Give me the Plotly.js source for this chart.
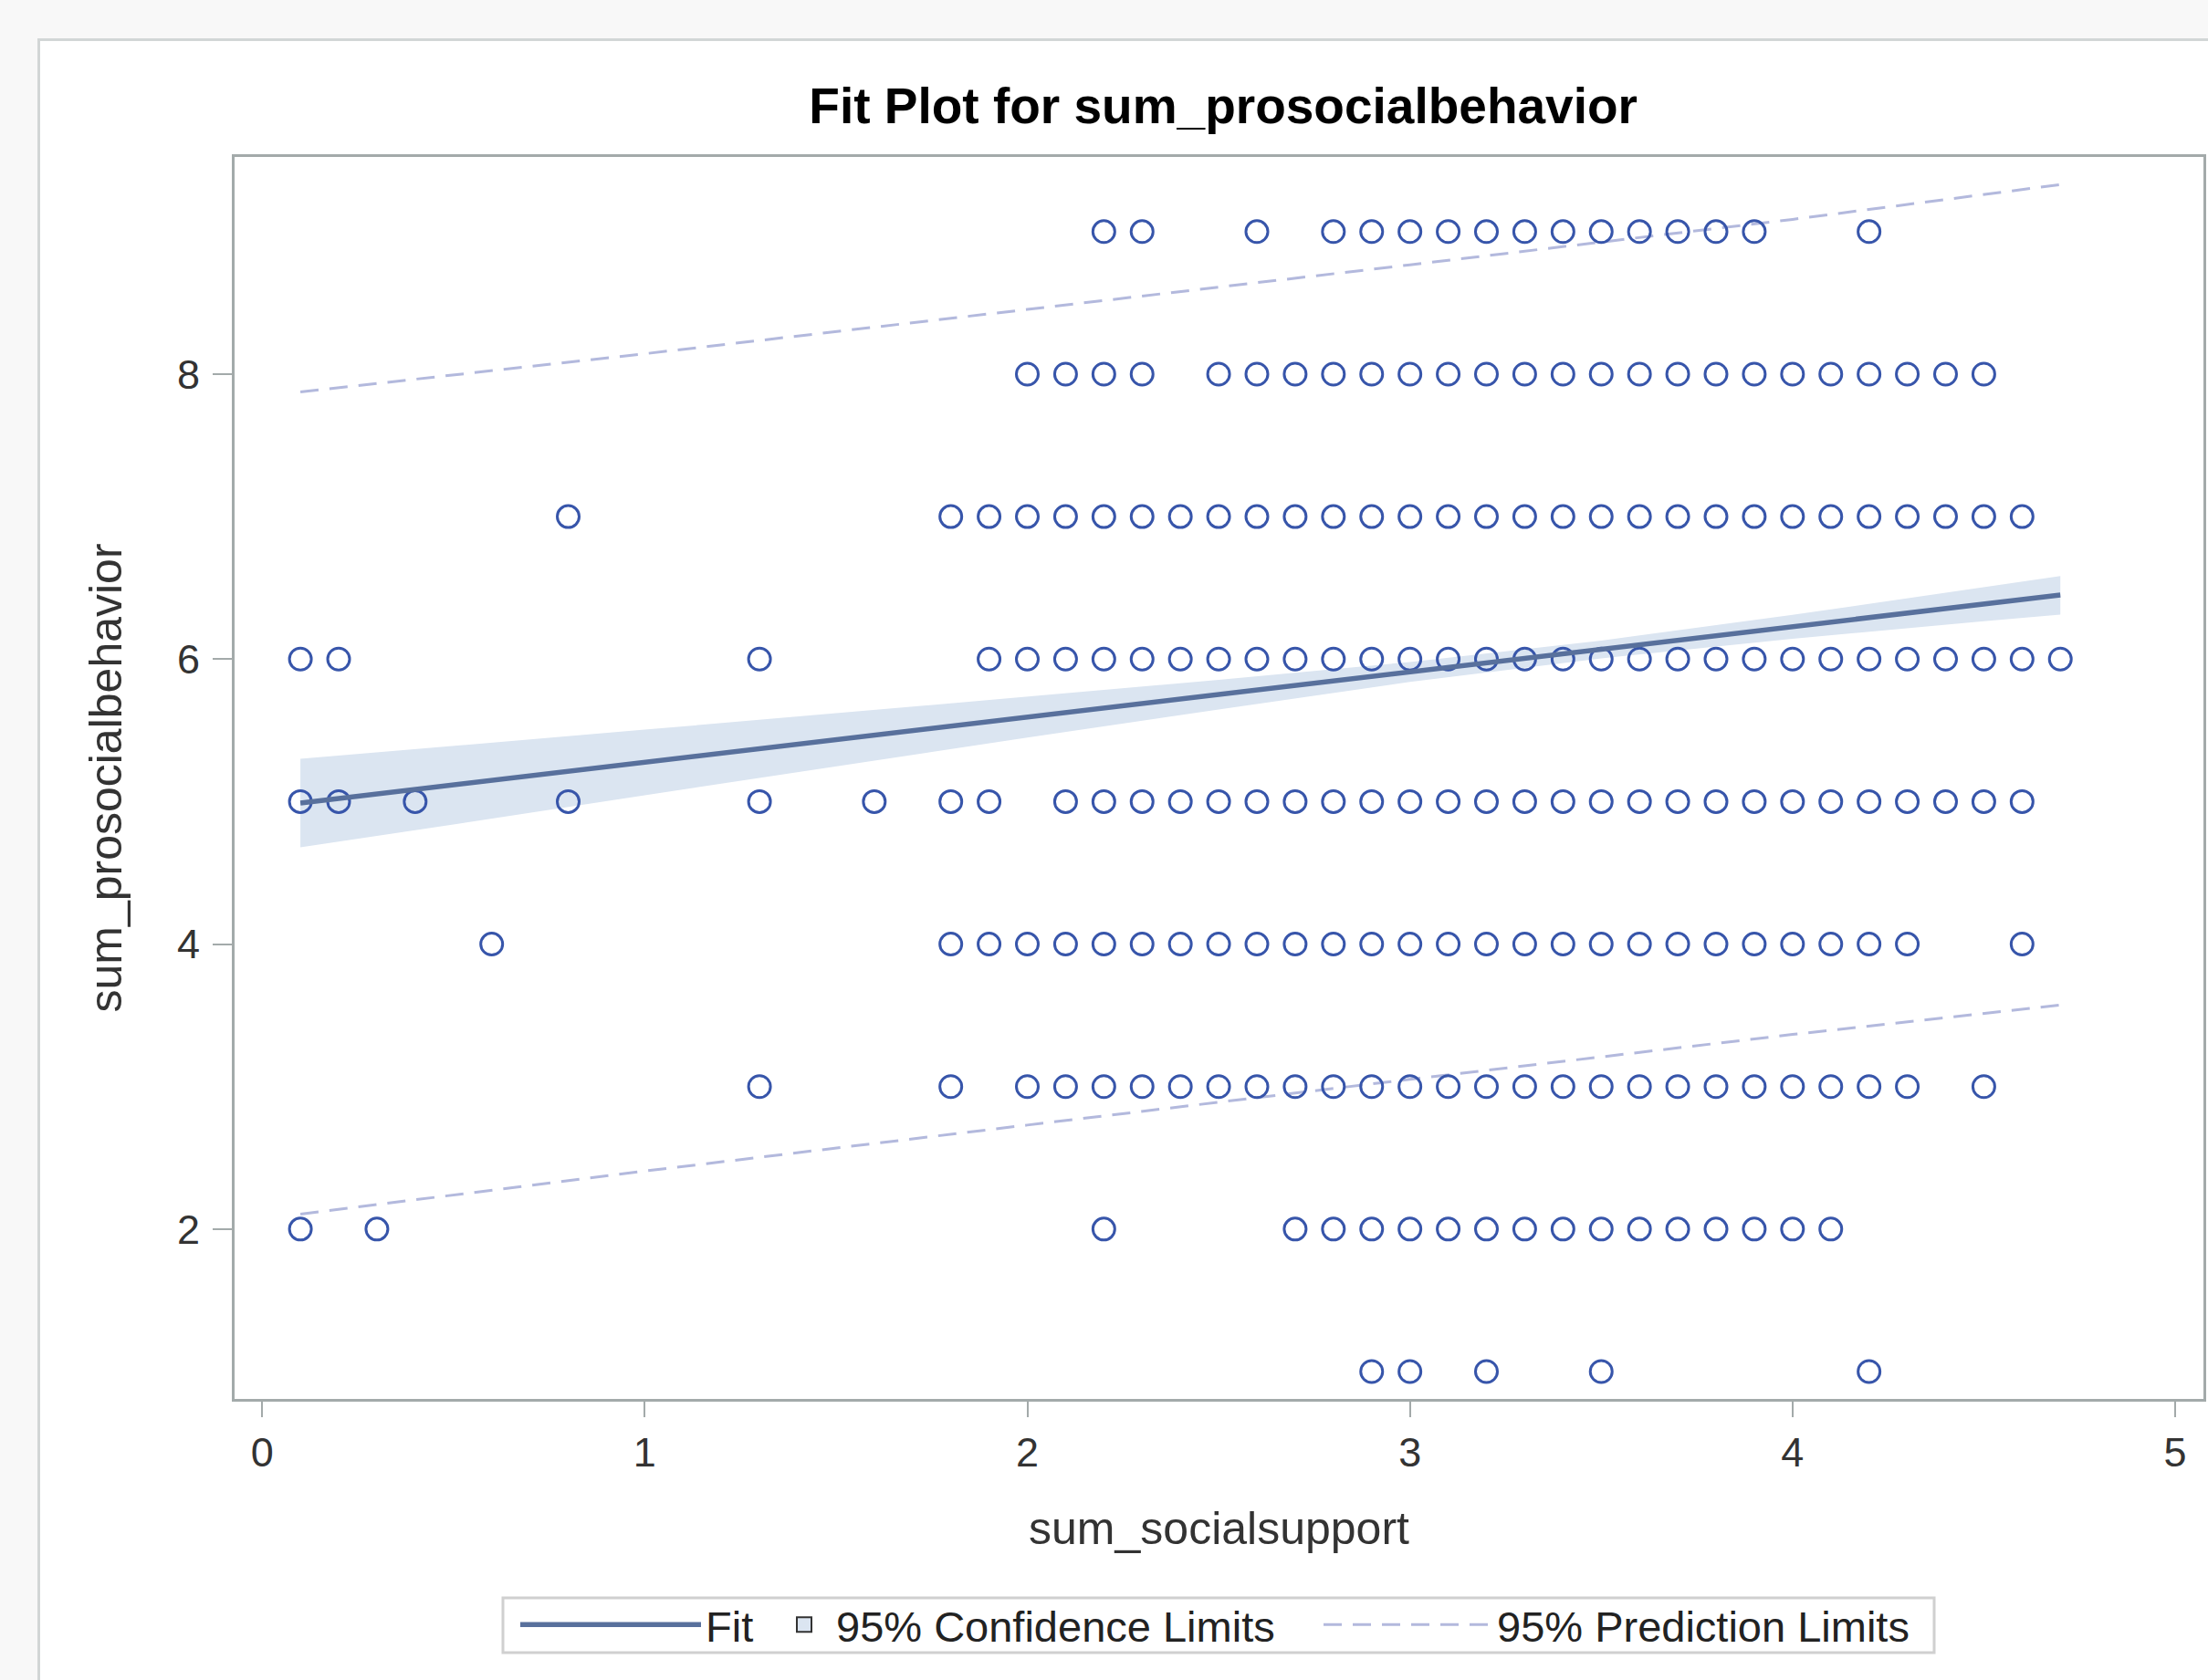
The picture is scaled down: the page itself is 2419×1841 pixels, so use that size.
<!DOCTYPE html>
<html><head><meta charset="utf-8">
<script src="https://cdn.plot.ly/plotly-3.0.1.min.js"></script>
<style>
html,body{margin:0;padding:0;width:2419px;height:1841px;overflow:hidden;background:#f8f8f8;}
#panel{position:absolute;left:41px;top:42px;width:2420px;height:1850px;background:#fff;border:3px solid #d2d6d6;box-sizing:border-box;}
#chart{position:absolute;left:0;top:0;width:2419px;height:1841px;}
</style></head><body>
<div id="panel"></div><div id="chart"></div>
<script>
// ---- data ----
const rowY9 = [2.2,2.3,2.6,2.8,2.9,3.0,3.1,3.2,3.3,3.4,3.5,3.6,3.7,3.8,3.9,4.2];
const rowY8 = [2.0,2.1,2.2,2.3,2.5,2.6,2.7,2.8,2.9,3.0,3.1,3.2,3.3,3.4,3.5,3.6,3.7,3.8,3.9,4.0,4.1,4.2,4.3,4.4,4.5];
const rowY7 = [0.8,1.8,1.9,2.0,2.1,2.2,2.3,2.4,2.5,2.6,2.7,2.8,2.9,3.0,3.1,3.2,3.3,3.4,3.5,3.6,3.7,3.8,3.9,4.0,4.1,4.2,4.3,4.4,4.5,4.6];
const rowY6 = [0.1,0.2,1.3,1.9,2.0,2.1,2.2,2.3,2.4,2.5,2.6,2.7,2.8,2.9,3.0,3.1,3.2,3.3,3.4,3.5,3.6,3.7,3.8,3.9,4.0,4.1,4.2,4.3,4.4,4.5,4.6,4.7];
const rowY5 = [0.1,0.2,0.4,0.8,1.3,1.6,1.8,1.9,2.1,2.2,2.3,2.4,2.5,2.6,2.7,2.8,2.9,3.0,3.1,3.2,3.3,3.4,3.5,3.6,3.7,3.8,3.9,4.0,4.1,4.2,4.3,4.4,4.5,4.6];
const rowY4 = [0.6,1.8,1.9,2.0,2.1,2.2,2.3,2.4,2.5,2.6,2.7,2.8,2.9,3.0,3.1,3.2,3.3,3.4,3.5,3.6,3.7,3.8,3.9,4.0,4.1,4.2,4.3,4.6];
const rowY3 = [1.3,1.8,2.0,2.1,2.2,2.3,2.4,2.5,2.6,2.7,2.8,2.9,3.0,3.1,3.2,3.3,3.4,3.5,3.6,3.7,3.8,3.9,4.0,4.1,4.2,4.3,4.5];
const rowY2 = [0.1,0.3,2.2,2.7,2.8,2.9,3.0,3.1,3.2,3.3,3.4,3.5,3.6,3.7,3.8,3.9,4.0,4.1];
const rowY1 = [2.9,3.0,3.2,3.5,4.2];
const rowLevels = [9,8,7,6,5,4,3,2,1];

const fitX = [0.1, 4.7];
const fitY = [4.99, 6.45];

const bandX     = [0.1, 0.5, 1.0, 1.5, 2.0, 2.5, 3.0, 3.5, 4.0, 4.5, 4.7];
const bandUpper = [5.30, 5.39, 5.505, 5.62, 5.735, 5.854, 5.98, 6.13, 6.31, 6.504, 6.583];
const bandLower = [4.68, 4.84, 5.045, 5.248, 5.449, 5.646, 5.84, 6.005, 6.143, 6.266, 6.313];

const predX     = [0.1, 1.0, 2.0, 3.0, 4.0, 4.7];
const predUpper = [7.875, 8.143, 8.454, 8.767, 9.086, 9.33];
const predLower = [2.105, 2.407, 2.73, 3.051, 3.366, 3.572];

const xTicks = [0, 1, 2, 3, 4, 5];
const yTicks = [2, 4, 6, 8];

const titleText = 'Fit Plot for sum_prosocialbehavior';
const xTitle = 'sum_socialsupport';
const yTitle = 'sum_prosocialbehavior';
const seriesNames = ['Fit', '95% Confidence Limits', '95% Prediction Limits'];

// ---- build point arrays ----
const rows = [rowY9,rowY8,rowY7,rowY6,rowY5,rowY4,rowY3,rowY2,rowY1];
const ptX = [], ptY = [];
rows.forEach((r, i) => r.forEach(v => { ptX.push(v); ptY.push(rowLevels[i]); }));

const FONT = 'Liberation Sans, Arial, Helvetica, sans-serif';
const AXC = '#a3aaaa';

const traces = [
  {x: bandX, y: bandLower, mode:'lines', line:{width:0, color:'rgba(0,0,0,0)'}, showlegend:false, hoverinfo:'skip'},
  {x: bandX, y: bandUpper, mode:'lines', line:{width:0, color:'rgba(0,0,0,0)'}, fill:'tonexty', fillcolor:'#dbe5f1', showlegend:false, hoverinfo:'skip'},
  {x: predX, y: predUpper, mode:'lines', line:{color:'#b3b9dd', width:3, dash:'20px,12px'}, name: seriesNames[2], legend:'legend3', legendgroup:'pred', showlegend:true},
  {x: predX, y: predLower, mode:'lines', line:{color:'#b3b9dd', width:3, dash:'20px,12px'}, name: seriesNames[2], legendgroup:'pred', showlegend:false},
  {x: ptX, y: ptY, mode:'markers', marker:{symbol:'circle-open', size:24, color:'#3755aa', line:{width:3, color:'#3755aa'}}, showlegend:false},
  {x: fitX, y: fitY, mode:'lines', line:{color:'#58709c', width:5.5}, name: seriesNames[0], legend:'legend', showlegend:true},
  {x:[null], y:[null], mode:'markers', marker:{symbol:'square', size:16, color:'#dbe5f1', line:{color:'#333333', width:2}}, name: seriesNames[1], legend:'legend2', showlegend:true}
];

const legFont = {family: FONT, size: 47, color:'#222'};
const legY = -0.182;
const layout = {
  width: 2419, height: 1841,
  paper_bgcolor: 'rgba(0,0,0,0)', plot_bgcolor: '#ffffff',
  margin: {l:257, r:5, t:172, b:308, pad:0},
  font: {family: FONT, color:'#222'},
  title: {text: titleText, font:{family: FONT, size:55, weight:'bold', color:'#000'},
          x: 0.554, xref:'container', xanchor:'center', y: 1-116/1841, yref:'container', yanchor:'middle'},
  xaxis: {range:[-0.072, 5.074], tickmode:'array', tickvals: xTicks, ticktext: xTicks.map(String),
          ticks:'outside', ticklen:17, tickwidth:2, tickcolor:AXC,
          showline:true, linecolor:AXC, linewidth:3, mirror:true, showgrid:false, zeroline:false,
          tickfont:{family:FONT, size:45, color:'#333'},
          title:{text:xTitle, font:{family:FONT, size:50, color:'#333'}, standoff:41}},
  yaxis: {range:[0.808, 9.524], tickmode:'array', tickvals: yTicks, ticktext: yTicks.map(String),
          ticks:'outside', ticklen:21, tickwidth:2, tickcolor:AXC, ticklabelstandoff:5,
          showline:true, linecolor:AXC, linewidth:3, mirror:true, showgrid:false, zeroline:false,
          tickfont:{family:FONT, size:45, color:'#333'},
          title:{text:yTitle, font:{family:FONT, size:50, color:'#333'}, standoff:45}},
  showlegend: true,
  legend:  {orientation:'h', x:(565-257)/2157, xanchor:'left', y:legY, yanchor:'middle', itemwidth:198, font:legFont, bgcolor:'rgba(0,0,0,0)', borderwidth:0},
  legend2: {orientation:'h', x:(846-257)/2157, xanchor:'left', y:legY, yanchor:'middle', itemwidth:60, font:legFont, bgcolor:'rgba(0,0,0,0)', borderwidth:0},
  legend3: {orientation:'h', x:(1445-257)/2157, xanchor:'left', y:legY, yanchor:'middle', itemwidth:185, font:legFont, bgcolor:'rgba(0,0,0,0)', borderwidth:0},
  shapes: [{type:'rect', xref:'paper', yref:'paper', x0:(551-257)/2157, x1:(2119-257)/2157,
            y0:(1533-1811)/1361, y1:(1533-1751)/1361, line:{color:'#d0d0d0', width:3}, fillcolor:'rgba(0,0,0,0)'}]
};

Plotly.newPlot('chart', traces, layout, {staticPlot:true, displayModeBar:false});
</script></body></html>
